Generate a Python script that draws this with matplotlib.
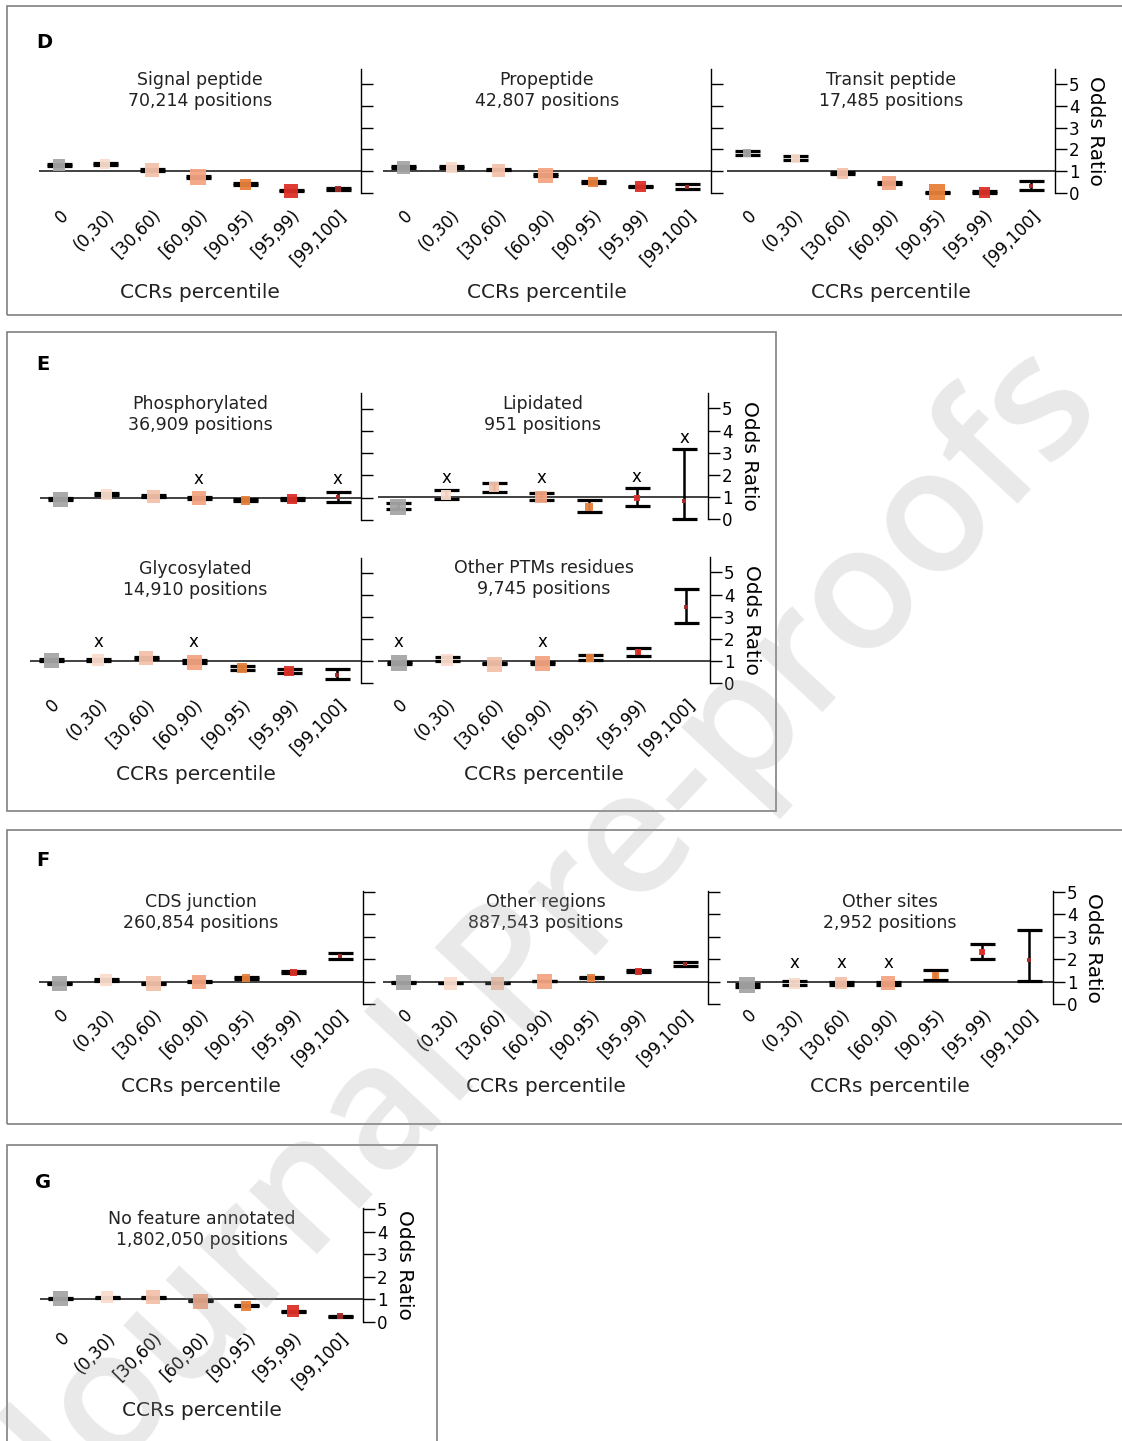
import matplotlib
matplotlib.use('Agg')
import matplotlib.pyplot as plt
import matplotlib.transforms as mtransforms
from matplotlib.patches import Rectangle
import numpy as np

# ---------------- data ----------------
categories = ['0', '(0,30)', '[30,60)', '[60,90)', '[90,95)', '[95,99)', '[99,100]']
bin_colors = ['#a6a6a6', '#fadccd', '#f4c2aa', '#f4a582', '#e8803a', '#dc3028', '#a52a2a']

# Signal peptide
sig_or = [1.29, 1.34, 1.06, 0.75, 0.41, 0.11, 0.17]
sig_lo = [1.25, 1.30, 1.02, 0.71, 0.38, 0.08, 0.12]
sig_hi = [1.33, 1.38, 1.10, 0.79, 0.44, 0.14, 0.24]
sig_w = [12, 10, 14, 16, 11, 14, 6]
sig_ns = [0, 0, 0, 0, 0, 0, 0]

# Propeptide
pro_or = [1.21, 1.21, 1.08, 0.84, 0.49, 0.30, 0.29]
pro_lo = [1.17, 1.17, 1.04, 0.79, 0.45, 0.26, 0.17]
pro_hi = [1.25, 1.25, 1.12, 0.89, 0.53, 0.34, 0.40]
pro_w = [13, 11, 13, 15, 10, 11, 5]
pro_ns = [0, 0, 0, 0, 0, 0, 0]

# Transit peptide
tra_or = [1.82, 1.60, 0.93, 0.46, 0.03, 0.05, 0.30]
tra_lo = [1.73, 1.52, 0.89, 0.42, 0.01, 0.02, 0.14]
tra_hi = [1.93, 1.68, 0.97, 0.50, 0.06, 0.09, 0.57]
tra_w = [8, 9, 11, 14, 16, 11, 4]
tra_ns = [0, 0, 0, 0, 0, 0, 0]

# Phosphorylated
pho_or = [0.93, 1.15, 1.09, 1.00, 0.90, 0.94, 1.05]
pho_lo = [0.89, 1.11, 1.05, 0.96, 0.86, 0.89, 0.81]
pho_hi = [0.97, 1.19, 1.13, 1.05, 0.94, 0.99, 1.27]
pho_w = [15, 11, 13, 14, 9, 10, 5]
pho_ns = [0, 0, 0, 1, 0, 0, 1]

# Lipidated
lip_or = [0.56, 1.09, 1.44, 1.01, 0.56, 0.95, 0.80]
lip_lo = [0.44, 0.91, 1.21, 0.86, 0.33, 0.57, 0.00]
lip_hi = [0.71, 1.32, 1.64, 1.18, 0.88, 1.41, 3.15]
lip_w = [16, 10, 10, 12, 8, 6, 5]
lip_ns = [0, 1, 0, 1, 0, 1, 1]

# Glycosylated
gly_or = [1.05, 1.05, 1.13, 0.98, 0.67, 0.55, 0.37]
gly_lo = [1.01, 1.01, 1.08, 0.93, 0.60, 0.44, 0.20]
gly_hi = [1.09, 1.09, 1.18, 1.03, 0.77, 0.62, 0.65]
gly_w = [15, 12, 14, 15, 10, 10, 5]
gly_ns = [0, 1, 0, 1, 0, 0, 0]

# Other PTMs residues
ptm_or = [0.90, 1.06, 0.88, 0.92, 1.13, 1.40, 3.44]
ptm_lo = [0.85, 0.99, 0.84, 0.88, 1.03, 1.24, 2.71]
ptm_hi = [0.95, 1.16, 0.92, 0.96, 1.25, 1.58, 4.27]
ptm_w = [16, 12, 15, 15, 8, 6, 4]
ptm_ns = [1, 0, 0, 1, 0, 0, 0]

# CDS junction
cds_or = [0.93, 1.07, 0.93, 1.00, 1.15, 1.44, 2.14]
cds_lo = [0.90, 1.04, 0.90, 0.97, 1.11, 1.39, 2.00]
cds_hi = [0.96, 1.10, 0.96, 1.03, 1.19, 1.49, 2.29]
cds_w = [15, 12, 15, 14, 8, 7, 4]
cds_ns = [0, 0, 0, 0, 0, 0, 0]

# Other regions
reg_or = [0.97, 0.94, 0.94, 1.03, 1.18, 1.47, 1.80]
reg_lo = [0.95, 0.92, 0.92, 1.01, 1.15, 1.43, 1.70]
reg_hi = [0.99, 0.96, 0.96, 1.05, 1.21, 1.51, 1.89]
reg_w = [15, 13, 13, 15, 8, 7, 4]
reg_ns = [0, 0, 0, 0, 0, 0, 0]

# Other sites
sit_or = [0.83, 0.95, 0.92, 0.92, 1.28, 2.31, 1.96]
sit_lo = [0.75, 0.86, 0.84, 0.85, 1.09, 1.99, 1.05]
sit_hi = [0.90, 1.05, 1.00, 0.99, 1.54, 2.68, 3.29]
sit_w = [16, 11, 12, 14, 7, 6, 4]
sit_ns = [0, 1, 1, 1, 0, 0, 0]

# No feature annotated
nof_or = [1.06, 1.09, 1.10, 0.94, 0.73, 0.47, 0.25]
nof_lo = [1.04, 1.07, 1.08, 0.92, 0.71, 0.45, 0.23]
nof_hi = [1.08, 1.11, 1.12, 0.96, 0.75, 0.49, 0.27]
nof_w = [15, 12, 14, 15, 10, 12, 6]
nof_ns = [0, 0, 0, 0, 0, 0, 0]

yticks = [0, 1, 2, 3, 4, 5]

# ---------------- figure ----------------
W, H = 1122, 1441
fig = plt.figure(figsize=(W / 100, H / 100), dpi=100)
plt.rcParams['font.family'] = ['DejaVu Sans']


def px_axes(left, right, top, bottom):
    ax = fig.add_axes([left / W, 1 - bottom / H, (right - left) / W, (bottom - top) / H])
    ax.set_facecolor('none')
    return ax


def draw(ax, title, orv, lo, hi, wts, ns, ytop, show_labels, xlabel_y, xpad,
         show_xticklabels=True):
    orv = np.array(orv); lo = np.array(lo); hi = np.array(hi)
    x = np.arange(len(categories))
    ax.axhline(1, color='#333333', lw=1.3, zorder=1)
    ax.errorbar(x, orv, yerr=[orv - lo, hi - orv], fmt='none', ecolor='black',
                elinewidth=1.8, capsize=9, capthick=2.3, zorder=2, clip_on=False)
    for i in range(len(x)):
        ax.plot(x[i], orv[i], marker='s', ms=wts[i] * 0.72, color=bin_colors[i],
                mew=0, ls='none', zorder=3, clip_on=False, alpha=0.95)
        if ns[i]:
            ax.text(x[i], max(hi[i], 1.35) + 0.5, 'x', ha='center', va='center',
                    fontsize=12, zorder=4)
    ax.set_xlim(-0.43, 6.5)
    ax.set_ylim(0, ytop)
    for s in ['left', 'top', 'bottom']:
        ax.spines[s].set_visible(False)
    ax.spines['right'].set_linewidth(1.0)
    ax.yaxis.tick_right()
    ax.set_yticks(yticks)
    ax.tick_params(axis='y', direction='out', length=8.5, width=1.0, labelsize=12,
                   pad=1.5, labelright=show_labels)
    ax.set_xticks(x)
    if show_xticklabels:
        ax.set_xticklabels(categories, rotation=45, ha='right', va='top',
                           rotation_mode='anchor', fontsize=12)
        off = mtransforms.ScaledTranslation(4 / 100, 0, fig.dpi_scale_trans)
        for lab in ax.get_xticklabels():
            lab.set_transform(lab.get_transform() + off)
    else:
        ax.set_xticklabels([])
    ax.tick_params(axis='x', length=0, pad=xpad)
    ax.text(0.5, 0.985, title, transform=ax.transAxes, ha='center', va='top',
            fontsize=12.5, linespacing=1.25, color='#222222')
    bb = ax.get_position()
    if xlabel_y is not None:
        fig.text((bb.x0 + bb.x1) / 2, 1 - xlabel_y / H, 'CCRs percentile',
                 ha='center', va='center', fontsize=14.5, color='#222222')
    if show_labels:
        fig.text(bb.x1 + 41 / W, (bb.y0 + bb.y1) / 2, 'Odds Ratio', rotation=270,
                 ha='center', va='center', fontsize=14.5)


def box(l, t, r, b):
    fig.patches.append(Rectangle((l / W, 1 - b / H), (r - l) / W, (b - t) / H,
                                 transform=fig.transFigure, fill=False,
                                 edgecolor='#808080', lw=1.2, zorder=0))


# panel boxes
box(7, 6, 1140, 315)
box(7, 332, 776, 811)
box(7, 830, 1140, 1124)
box(7, 1145, 437, 1460)

for letter, (lx, ly) in zip('DEFG', [(44, 42), (43, 365), (43, 861), (43, 1182)]):
    fig.text(lx / W, 1 - ly / H, letter, fontsize=14, fontweight='bold',
             ha='center', va='center')

YT1 = 5.7
YT2 = 5.05

# D
draw(px_axes(39, 361, 69, 193), 'Signal peptide\n70,214 positions',
     sig_or, sig_lo, sig_hi, sig_w, sig_ns, YT1, False, 292, 9.5)
draw(px_axes(383, 711, 69, 193), 'Propeptide\n42,807 positions',
     pro_or, pro_lo, pro_hi, pro_w, pro_ns, YT1, False, 292, 9.5)
draw(px_axes(727, 1055, 69, 193), 'Transit peptide\n17,485 positions',
     tra_or, tra_lo, tra_hi, tra_w, tra_ns, YT1, True, 292, 9.5)
# E
draw(px_axes(40, 361, 393, 520), 'Phosphorylated\n36,909 positions',
     pho_or, pho_lo, pho_hi, pho_w, pho_ns, YT1, False, None, 9, False)
draw(px_axes(378, 708, 393, 519), 'Lipidated\n951 positions',
     lip_or, lip_lo, lip_hi, lip_w, lip_ns, YT1, True, None, 9, False)
draw(px_axes(30, 361, 558, 683), 'Glycosylated\n14,910 positions',
     gly_or, gly_lo, gly_hi, gly_w, gly_ns, YT1, False, 774, 9)
draw(px_axes(378, 710, 557, 683), 'Other PTMs residues\n9,745 positions',
     ptm_or, ptm_lo, ptm_hi, ptm_w, ptm_ns, YT1, True, 774, 9)
# F
draw(px_axes(39, 363, 891, 1004), 'CDS junction\n260,854 positions',
     cds_or, cds_lo, cds_hi, cds_w, cds_ns, YT2, False, 1087, 1.5)
draw(px_axes(383, 708, 891, 1004), 'Other regions\n887,543 positions',
     reg_or, reg_lo, reg_hi, reg_w, reg_ns, YT2, False, 1087, 1.5)
draw(px_axes(727, 1053, 891, 1004), 'Other sites\n2,952 positions',
     sit_or, sit_lo, sit_hi, sit_w, sit_ns, YT2, True, 1087, 1.5)
# G
draw(px_axes(40, 363, 1208, 1322), 'No feature annotated\n1,802,050 positions',
     nof_or, nof_lo, nof_hi, nof_w, nof_ns, YT2, True, 1410, 5)

# watermark
fig.text(562 / W, 1 - 940 / H, 'Journal Pre-proofs', rotation=47, fontsize=124,
         family=['Open Sans', 'DejaVu Sans'], fontweight='semibold', color='#a0a0a0',
         alpha=0.23, ha='center', va='center', zorder=10)

fig.savefig('out.png', dpi=100)
